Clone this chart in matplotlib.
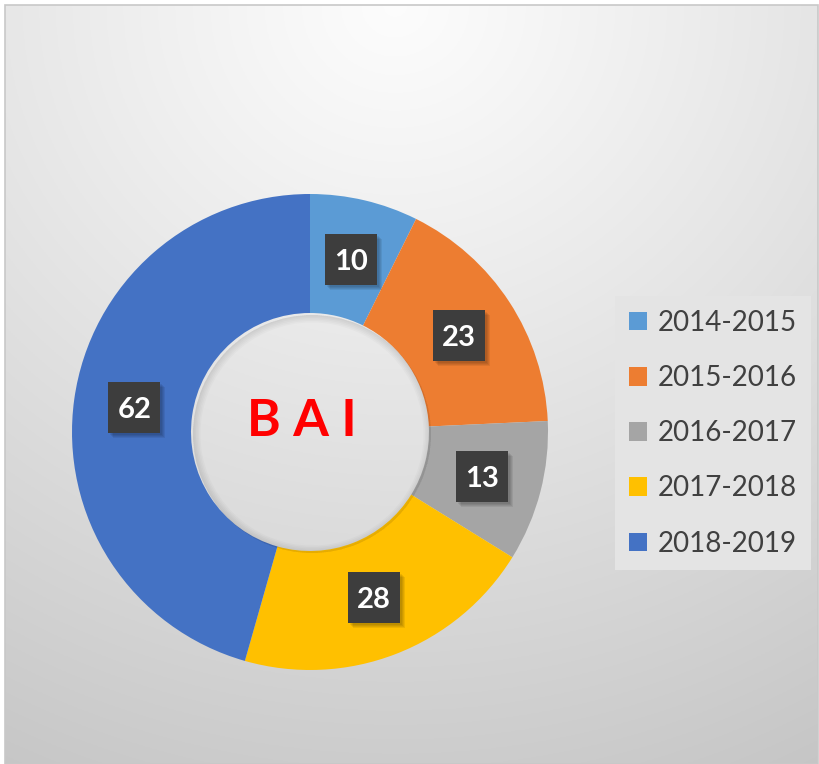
import numpy as np
import matplotlib
matplotlib.use("Agg")
import matplotlib.pyplot as plt
from matplotlib.patches import Rectangle, Wedge

categories = ["2014-2015", "2015-2016", "2016-2017", "2017-2018", "2018-2019"]
values = [10, 23, 13, 28, 62]
colors = ["#5B9BD5", "#ED7D31", "#A5A5A5", "#FFC000", "#4472C4"]
center_label = "B A I"

W, H = 819, 764
fig = plt.figure(figsize=(W / 100, H / 100), dpi=100)
fig.patch.set_facecolor("white")
ax = fig.add_axes([0, 0, 1, 1])
ax.set_xlim(0, W)
ax.set_ylim(0, H)
ax.axis("off")

# background radial gradient inside border
x0, x1, y0, y1 = 5, 818, 0, 759
gx = np.linspace(0, 1, 400)
gy = np.linspace(0, 1, 400)
GX, GY = np.meshgrid(gx, gy)
d = np.sqrt(((GX - 0.48) * 1.0) ** 2 + ((GY - 0.0) * 1.0) ** 2)
d = np.clip(d / 1.15, 0, 1)
c_in, c_out = 0.99, 0.77
val = c_in + (c_out - c_in) * d ** 1.1
img = np.dstack([val, val, val])
ax.imshow(img, extent=(x0, x1, y0, y1), origin="upper", zorder=0, aspect="auto")
ax.add_patch(Rectangle((x0, y0), x1 - x0, y1 - y0, fill=False, edgecolor="#c8c8c8", lw=1.2, zorder=1))

cx, cy, R = 310, H - 432, 238
wedges, _ = ax.pie(values, colors=colors, startangle=90, counterclock=False,
                   center=(cx, cy), radius=R, wedgeprops=dict(width=R * 0.5, edgecolor="none"),
                   frame=False)
ax.set_xlim(0, W)
ax.set_ylim(0, H)
ax.set_aspect("auto")
for w in wedges:
    w.set_zorder(2)

# soft shadow just inside the hole
for i in range(5):
    ax.add_patch(Wedge((cx + 2, cy - 2), R * 0.5, 0, 360, width=1.5 + i * 1.5,
                       color="black", alpha=0.018, lw=0, zorder=2.1))

total = sum(values)
cum = 0
rl = R * 0.745
bw, bh = 52, 51
for v in values:
    mid = (cum + v / 2) / total * 2 * np.pi
    cum += v
    lx = cx + rl * np.sin(mid)
    ly = cy + rl * np.cos(mid)
    for k in range(4):
        ax.add_patch(Rectangle((lx - bw / 2 + 2 + k, ly - bh / 2 - 2 - k), bw, bh,
                               color="black", alpha=0.07, lw=0, zorder=3))
    ax.add_patch(Rectangle((lx - bw / 2, ly - bh / 2), bw, bh, color="#3d3d3d", lw=0, zorder=4))
    ax.text(lx, ly, str(v), color="white", fontsize=21, fontweight="bold", family="Lato",
            ha="center", va="center_baseline", zorder=5)

ax.text(cx - 8, cy + 11, center_label, color="#FF0000", fontsize=37, fontweight="bold", family="Lato",
        ha="center", va="center", zorder=5)

leg = ax.legend(wedges, categories, loc="upper left", bbox_to_anchor=(615 / W, 1 - 296 / H),
                frameon=True, fancybox=False, prop=dict(family="Lato", size=20),
                handlelength=0.65, handleheight=0.65, handletextpad=0.4, labelspacing=1.05,
                borderpad=0.5, borderaxespad=0)
leg.get_frame().set_facecolor("#e4e4e4")
leg.get_frame().set_edgecolor("none")
leg.get_frame().set_alpha(1)
for t in leg.get_texts():
    t.set_color("#404040")
leg.set_zorder(6)

fig.savefig("out.png", dpi=100)
